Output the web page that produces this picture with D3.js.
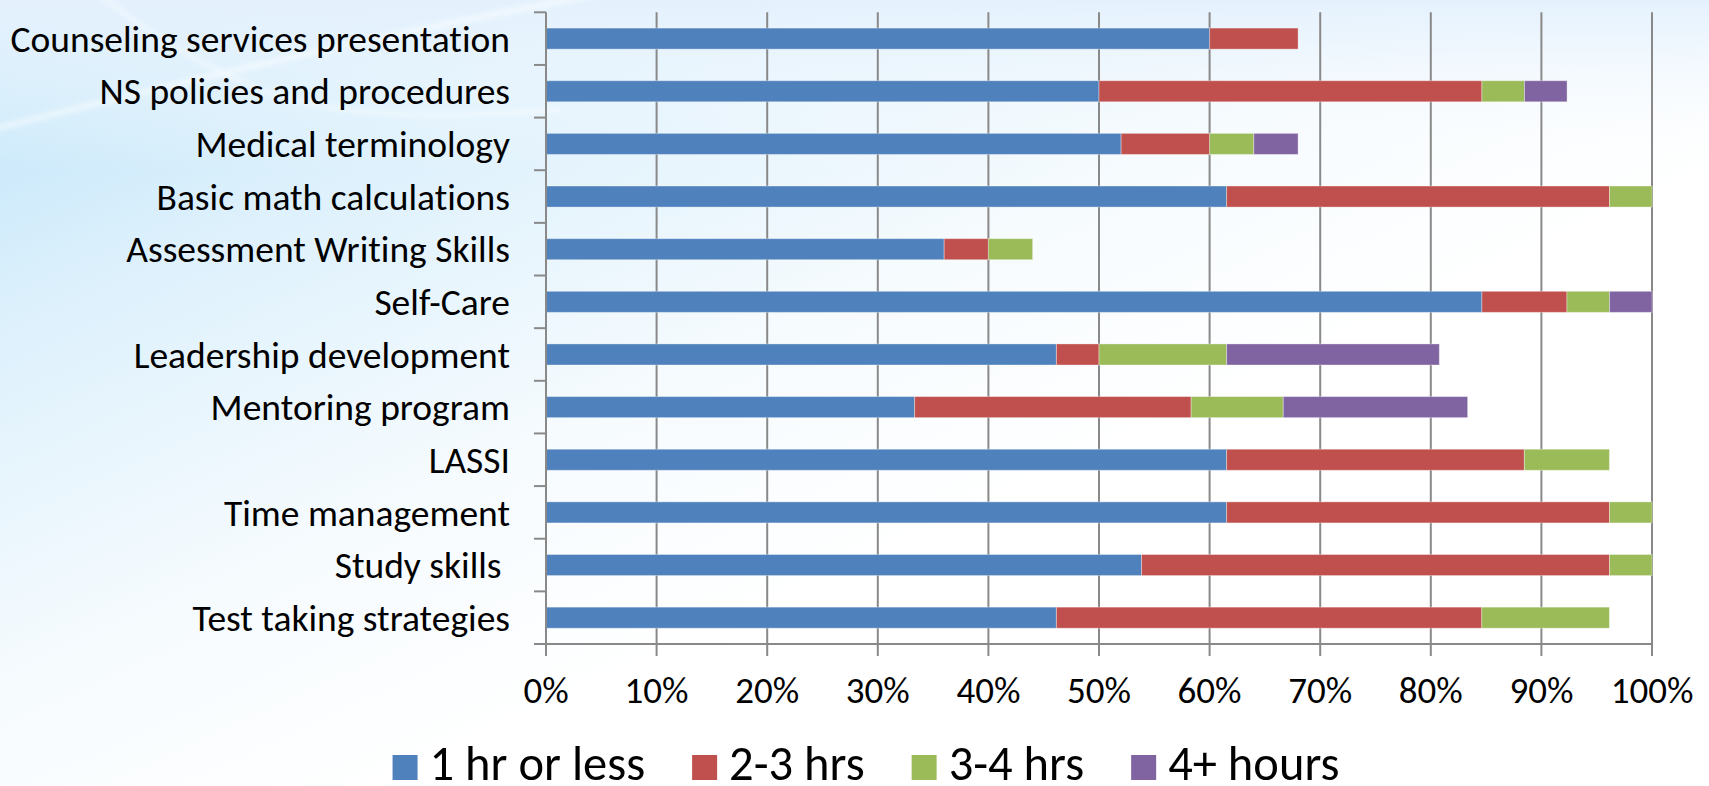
<!DOCTYPE html>
<html>
<head>
<meta charset="utf-8">
<script src="https://cdn.jsdelivr.net/npm/d3@7"></script>
<style>
  html, body { margin: 0; padding: 0; background: #fff; }
  svg { display: block; }
  text { font-family: Calibri, Carlito, Lato, "Open Sans", sans-serif; fill: #000;
         font-variant-ligatures: none; }
</style>
</head>
<body>
<svg id="chart" width="1709" height="786"></svg>
<script>
// Topics, listed top to bottom
const categories = [
  "Counseling services presentation",
  "NS policies and procedures",
  "Medical terminology",
  "Basic math calculations",
  "Assessment Writing Skills",
  "Self-Care",
  "Leadership development",
  "Mentoring program",
  "LASSI",
  "Time management",
  "Study skills ",
  "Test taking strategies"
];

// Share of respondents (%) per time bracket, same order as categories
const series = ["1 hr or less", "2-3 hrs", "3-4 hrs", "4+ hours"];
const oneHourOrLess = [60, 50, 52, 61.54, 36, 84.62, 46.15, 33.33, 61.54, 61.54, 53.85, 46.15];
const twoToThree   = [8, 34.62, 8, 34.62, 4, 7.69, 3.85, 25, 26.92, 34.62, 42.31, 38.46];
const threeToFour  = [0, 3.85, 4, 3.85, 4, 3.85, 11.54, 8.33, 7.69, 3.85, 3.85, 11.54];
const fourPlus     = [0, 3.85, 4, 0, 0, 3.85, 19.23, 16.67, 0, 0, 0, 0];

const xTicks = [0, 10, 20, 30, 40, 50, 60, 70, 80, 90, 100];
const tickLabels = ["0%", "10%", "20%", "30%", "40%", "50%", "60%", "70%", "80%", "90%", "100%"];

const colors = ["#4f81bd", "#c0504d", "#9bbb59", "#8064a2"];

const svg = d3.select("#chart");
const W = 1709, H = 786;

// ---- background: pale sky-blue wash from the top-left corner ----
const defs = svg.append("defs");
const lg = defs.append("linearGradient").attr("id", "bgWash")
  .attr("x1", "0").attr("y1", "0").attr("x2", "1").attr("y2", "1");
lg.append("stop").attr("offset", "0%").attr("stop-color", "#bce3f9");
lg.append("stop").attr("offset", "20%").attr("stop-color", "#dcf0fc");
lg.append("stop").attr("offset", "44%").attr("stop-color", "#f6fbfe");
lg.append("stop").attr("offset", "62%").attr("stop-color", "#ffffff");
const topGrad = defs.append("linearGradient").attr("id", "topWash")
  .attr("x1", "0").attr("y1", "0").attr("x2", "0").attr("y2", "1");
topGrad.append("stop").attr("offset", "0%").attr("stop-color", "#e4f1fd").attr("stop-opacity", 1);
topGrad.append("stop").attr("offset", "100%").attr("stop-color", "#ffffff").attr("stop-opacity", 0);
defs.append("filter").attr("id", "soft").append("feGaussianBlur").attr("stdDeviation", 2.5);

svg.append("rect").attr("width", W).attr("height", H).attr("fill", "url(#bgWash)");
svg.append("rect").attr("width", W).attr("height", 170).attr("fill", "url(#topWash)");

// faint light streaks across the upper-left
const streaks = svg.append("g").attr("filter", "url(#soft)").attr("fill", "none")
  .attr("stroke", "#ffffff");
streaks.append("path").attr("d", "M-10,130 C150,90 350,40 620,-10")
  .attr("stroke-width", 5).attr("stroke-opacity", 0.55);
streaks.append("path").attr("d", "M95,-10 C130,20 170,50 260,90 C330,115 420,120 560,110")
  .attr("stroke-width", 4).attr("stroke-opacity", 0.45);

// ---- scales ----
const x = d3.scaleLinear().domain([0, 100]).range([546, 1652]);
const y = d3.scaleBand().domain(categories).range([12.3, 644])
  .paddingInner(0.6).paddingOuter(0.3);

const gridColor = "#898989";

// vertical gridlines (extended below the baseline as tick marks)
svg.append("g").selectAll("line").data(xTicks.filter(d => d > 0)).join("line")
  .attr("x1", d => x(d)).attr("x2", d => x(d))
  .attr("y1", 12.3).attr("y2", 656)
  .attr("stroke", gridColor).attr("stroke-width", 2);

// ---- stacked bars ----
const rows = categories.map((c, i) => ({
  cat: c, vals: [oneHourOrLess[i], twoToThree[i], threeToFour[i], fourPlus[i]]
}));
const stack = d3.stack().keys([0, 1, 2, 3]).value((d, k) => d.vals[k]);
const stacked = stack(rows);

svg.append("g").selectAll("g").data(stacked).join("g")
  .attr("fill", (d, i) => colors[i])
  .selectAll("rect").data(d => d.filter(s => s[1] - s[0] > 0)).join("rect")
  .attr("x", d => x(d[0]))
  .attr("width", d => x(d[1]) - x(d[0]))
  .attr("y", d => y(d.data.cat))
  .attr("height", y.bandwidth())
  .attr("stroke", "rgba(255,255,255,0.35)").attr("stroke-width", 1);

// ---- axes ----
// left axis line with ticks at band boundaries
const yStart = 12.3;
const boundaries = d3.range(categories.length + 1).map(i => yStart + i * (644 - yStart) / categories.length);
svg.append("line").attr("x1", x(0)).attr("x2", x(0)).attr("y1", yStart).attr("y2", 656)
  .attr("stroke", gridColor).attr("stroke-width", 2);
svg.append("g").selectAll("line").data(boundaries).join("line")
  .attr("x1", 534).attr("x2", x(0))
  .attr("y1", d => d).attr("y2", d => d)
  .attr("stroke", gridColor).attr("stroke-width", 2);
// bottom axis
svg.append("line").attr("x1", 534).attr("x2", x(100)).attr("y1", 644).attr("y2", 644)
  .attr("stroke", gridColor).attr("stroke-width", 2);

// category labels
svg.append("g").selectAll("text").data(categories).join("text")
  .attr("x", 510)
  .attr("y", d => y(d) + y.bandwidth() / 2)
  .attr("dy", "0.35em")
  .attr("text-anchor", "end")
  .style("white-space", "pre")
  .attr("font-size", 37.5)
  .text(d => d);

// percentage tick labels
svg.append("g").selectAll("text").data(xTicks).join("text")
  .attr("x", d => x(d))
  .attr("y", 703)
  .attr("text-anchor", "middle")
  .attr("font-size", 37)
  .text((d, i) => tickLabels[i]);

// ---- legend ----
const legend = svg.append("g");
const items = legend.selectAll("g").data(series).join("g");
items.append("rect").attr("y", 755).attr("width", 25).attr("height", 25)
  .attr("fill", (d, i) => colors[i]);
items.append("text").attr("x", 37).attr("y", 780).attr("font-size", 48.5).text(d => d);
let cursor = 0;
items.each(function () {
  const g = d3.select(this);
  g.attr("transform", `translate(${cursor},0)`);
  cursor += 37 + g.select("text").node().getComputedTextLength() + 47;
});
const legendWidth = cursor - 47;
legend.attr("transform", `translate(${866 - legendWidth / 2},0)`);
</script>
</body>
</html>
